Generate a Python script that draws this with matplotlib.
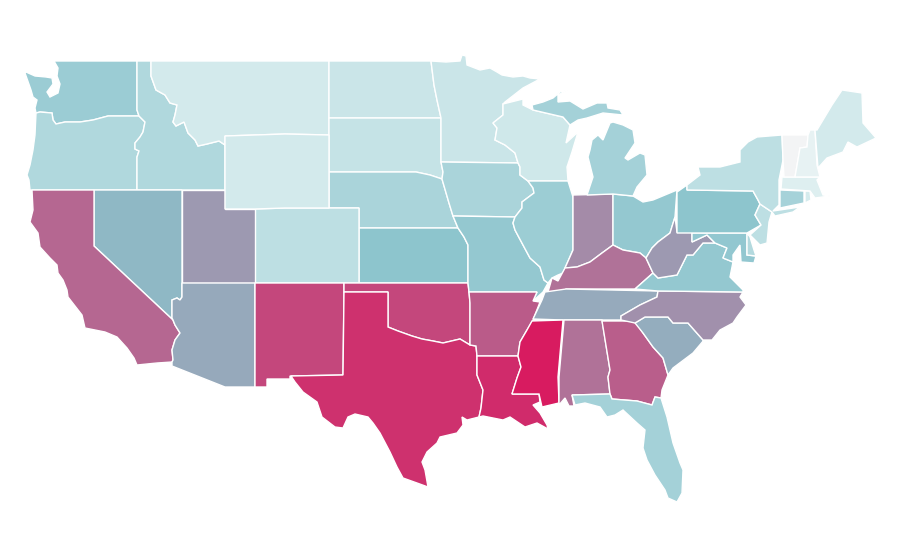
import matplotlib
matplotlib.use('Agg')
import matplotlib.pyplot as plt
from matplotlib.colors import LinearSegmentedColormap, Normalize
from matplotlib.patches import Polygon

# state outlines, traced in picture pixels
WA = [(54,61),(137,61),(137,110),(139,116),(108,116),(93,120),(80,122),(65,122),(56,124),(53,120),(52,113),(40,112),(36,113),(35,108),(37,100),(33,97),(31,90),(25,73),(26,72),(35,76),(46,77),(52,78),(53,84),(47,92),(50,97),(58,93),(60,84),(57,76),(58,68)]
OR = [(36,113),(40,112),(52,113),(53,120),(56,124),(65,122),(80,122),(93,120),(108,116),(139,116),(145,122),(143,132),(140,137),(135,143),(135,149),(139,151),(137,157),(137,190),(30,190),(29,180),(27,175),(30,165),(33,150),(35,135)]
ID = [(137,61),(151,61),(151,76),(156,90),(165,95),(170,103),(177,105),(175,115),(173,122),(176,126),(184,122),(188,133),(195,140),(198,146),(207,144),(219,141),(225,145),(225,190),(137,190),(137,157),(139,151),(135,149),(135,143),(140,137),(143,132),(145,122),(139,116),(137,110)]
MT = [(151,61),(329,61),(329,135),(285,134),(225,136),(225,145),(219,141),(207,144),(198,146),(195,140),(188,133),(184,122),(176,126),(173,122),(175,115),(177,105),(170,103),(165,95),(156,90),(151,76)]
WY = [(225,136),(285,134),(329,135),(329,208),(285,208),(255,209),(225,209)]
ND = [(329,61),(431,61),(434,85),(437,100),(441,118),(329,118)]
SD = [(329,118),(441,118),(441,162),(443,172),(442,179),(430,175),(416,172),(329,172)]
NE = [(329,172),(416,172),(430,175),(442,179),(449,203),(453,216),(458,228),(359,228),(359,208),(329,208)]
KS = [(359,228),(458,228),(464,237),(468,245),(468,283),(359,283)]
CO = [(255,209),(285,208),(359,208),(359,283),(255,283)]
UT = [(182,190),(225,190),(225,209),(255,209),(255,283),(182,283)]
NV = [(94,190),(182,190),(182,297),(180,300),(177,298),(172,300),(172,318),(173,320),(94,246)]
CA = [(32,190),(94,190),(94,246),(173,320),(175,325),(180,333),(175,340),(172,350),(173,360),(172,362),(157,363),(137,365),(134,358),(127,348),(117,337),(105,332),(95,330),(85,328),(82,315),(68,297),(67,290),(63,280),(58,273),(57,265),(50,258),(40,247),(38,233),(30,222),(33,210)]
AZ = [(182,283),(255,283),(255,387),(225,387),(172,366),(172,362),(173,360),(172,350),(175,340),(180,333),(175,325),(173,320),(172,318),(172,300),(177,298),(180,300),(182,297)]
NM = [(255,283),(344,283),(344,292),(343,375),(290,376),(290,379),(267,379),(267,387),(255,387)]
OK = [(344,283),(468,283),(469,292),(470,303),(470,345),(460,339),(443,343),(433,341),(422,339),(412,336),(398,331),(388,327),(388,292),(344,292)]
TX = [(344,292),(388,292),(388,327),(398,331),(412,336),(422,339),(433,341),(443,343),(460,339),(470,345),(476,346),(477,356),(477,375),(483,390),(481,408),(479,417),(467,420),(462,417),(463,425),(457,433),(440,437),(437,443),(427,452),(422,462),(425,470),(428,487),(417,483),(403,478),(397,467),(390,452),(380,433),(373,423),(368,417),(355,414),(348,417),(343,428),(335,427),(322,417),(317,402),(303,392),(295,382),(291,376),(343,375)]
MN = [(431,61),(446,62),(460,61),(462,55),(466,56),(467,65),(480,70),(490,68),(497,72),(502,75),(513,77),(523,76),(530,78),(540,79),(523,88),(505,102),(503,104),(503,115),(493,123),(497,128),(495,140),(505,145),(515,153),(518,163),(441,162),(441,118),(437,100),(434,85)]
IA = [(441,162),(518,163),(520,167),(520,175),(528,181),(533,188),(534,193),(522,202),(522,208),(515,217),(453,216),(449,203),(442,179),(443,172)]
MO = [(453,216),(515,217),(513,223),(515,230),(523,245),(530,258),(540,267),(544,280),(548,283),(543,292),(533,301),(537,292),(469,292),(468,283),(468,245),(464,237),(458,228)]
AR = [(469,292),(537,292),(533,301),(540,302),(533,320),(527,330),(520,342),(518,356),(477,356),(476,346),(470,345),(470,303)]
LA = [(477,356),(518,356),(521,367),(517,378),(512,394),(539,394),(540,402),(533,405),(540,413),(547,425),(548,429),(537,423),(525,427),(510,417),(503,420),(483,416),(479,417),(481,408),(483,390),(477,375)]
WI = [(503,104),(523,99),(523,105),(533,110),(563,117),(570,125),(566,143),(578,132),(572,152),(567,167),(568,181),(528,181),(520,175),(520,167),(518,163),(515,153),(505,145),(495,140),(497,128),(493,123),(503,115)]
IL = [(528,181),(568,181),(573,197),(573,250),(565,268),(563,273),(558,275),(552,278),(548,283),(544,280),(540,267),(530,258),(523,245),(515,230),(513,223),(515,217),(522,208),(522,202),(534,193),(533,188)]
IN = [(573,195),(613,194),(613,245),(602,253),(590,262),(577,267),(565,268),(573,250)]
OH = [(613,194),(633,196),(643,202),(653,200),(677,190),(675,217),(670,233),(658,242),(652,248),(646,258),(640,253),(623,250),(613,245)]
MI_LOWER = [(587,195),(613,194),(633,196),(637,187),(647,175),(645,155),(640,153),(628,160),(625,158),(635,143),(633,130),(623,125),(613,122),(610,123),(603,140),(598,135),(592,140),(590,150),(588,157),(593,177)]
MI_UPPER = [(532,105),(533,110),(563,117),(570,125),(578,120),(587,118),(603,113),(623,115),(620,110),(608,108),(607,103),(597,103),(583,109),(570,101),(558,102),(558,95),(568,90),(560,92),(553,98),(543,102)]
KY = [(548,292),(552,278),(558,281),(565,268),(577,267),(590,262),(602,253),(613,245),(623,250),(640,253),(646,258),(653,273),(635,289),(566,289),(565,292)]
TN = [(545,292),(566,289),(658,291),(657,297),(640,305),(621,316),(621,320),(563,320),(533,319),(542,300)]
MS = [(532,321),(563,320),(558,377),(559,403),(542,407),(539,394),(512,394),(517,378),(521,367),(518,356),(520,342),(527,330)]
AL = [(564,320),(602,320),(610,370),(608,377),(610,394),(572,395),(574,406),(569,406),(565,398),(559,405),(559,377)]
GA = [(602,321),(635,321),(643,333),(653,347),(663,358),(668,375),(662,390),(661,398),(655,397),(652,405),(637,401),(612,399),(610,394),(608,377),(610,370)]
FL = [(572,395),(610,394),(612,399),(637,401),(652,405),(655,397),(661,398),(667,417),(673,443),(680,463),(683,470),(682,493),(677,502),(668,498),(665,490),(655,475),(647,460),(643,448),(645,430),(637,423),(623,410),(615,415),(607,417),(600,407),(585,403),(575,405)]
SC = [(635,323),(645,317),(668,317),(673,323),(688,323),(703,340),(704,340),(693,353),(673,368),(668,375),(663,358),(653,347),(643,333)]
NC = [(621,320),(621,316),(640,305),(657,297),(658,291),(743,292),(740,297),(746,305),(737,317),(733,323),(720,330),(712,340),(703,340),(688,323),(673,323),(668,317),(645,317),(635,323)]
VA = [(635,289),(653,273),(658,278),(677,275),(687,255),(693,255),(703,243),(715,243),(727,248),(723,258),(733,262),(730,277),(743,290),(743,292),(658,291)]
WV = [(646,258),(652,248),(658,242),(670,233),(675,217),(677,232),(692,232),(692,242),(707,235),(715,243),(703,243),(693,255),(687,255),(677,275),(658,278),(653,273)]
MD = [(692,233),(747,233),(747,255),(756,256),(754,263),(741,262),(740,245),(733,255),(733,262),(723,258),(727,248),(715,243),(707,235),(692,242)]
DE = [(747,233),(750,237),(754,250),(756,256),(747,255)]
PA = [(677,192),(687,185),(687,190),(753,191),(758,200),(760,204),(755,215),(761,225),(747,233),(677,233)]
NJ = [(760,204),(772,212),(769,222),(767,243),(760,245),(750,235),(761,225),(755,215)]
NY = [(687,185),(700,175),(698,167),(720,167),(740,162),(740,150),(748,142),(757,137),(782,135),(783,160),(779,180),(779,205),(773,211),(800,207),(793,212),(775,216),(772,212),(760,204),(758,200),(753,191),(687,190)]
CT = [(780,190),(804,191),(804,203),(780,208)]
RI = [(805,191),(810,191),(811,200),(805,203)]
MA = [(782,177),(820,177),(817,180),(823,195),(830,196),(815,198),(810,191),(781,189)]
VT = [(782,135),(808,135),(807,147),(800,148),(795,177),(784,177),(783,160)]
NH = [(808,135),(810,130),(815,130),(817,165),(820,177),(795,177),(800,148),(807,147)]
ME = [(817,130),(832,105),(842,90),(862,93),(863,123),(876,138),(857,147),(848,142),(843,152),(827,158),(818,168),(815,130)]

outlines = [WA, OR, ID, MT, ND, SD, NE, KS, CO, UT, NV, CA, AZ, NM, OK, TX, MN, IA, MO, AR, LA, WI, IL, IN, OH,
            MI_LOWER, MI_UPPER, KY, TN, MS, AL, GA, FL, SC, NC, VA, WV, MD, DE, PA, NJ, NY, CT, RI, MA, VT, NH, ME, WY]
values = [33.5, 25, 25, 12, 15.5, 17, 27.5, 39, 20, 55, 44, 73, 49.6, 84, 84, 92, 15.5, 27.5, 36, 77, 94, 13.5, 33, 60, 36,
          30, 30, 69, 49, 100, 69, 76, 30, 48, 58, 36, 55, 37, 24, 39, 20, 20, 29, 11, 8, 0, 5, 12, 12]

cmap = LinearSegmentedColormap.from_list('states', [(0, '#f3f4f5'), (0.05, '#e6f2f3'), (0.12, '#d2eaec'),
                                                    (0.4, '#8ac3cc'), (1, '#d81b60')])
norm = Normalize(0, 100)

fig = plt.figure(figsize=(9, 5.6), dpi=100)
ax = fig.add_axes([0, 0, 1, 1])
for outline, value in zip(outlines, values):
    ax.add_patch(Polygon(outline, closed=True, facecolor=cmap(norm(value)), edgecolor='white', linewidth=1))
ax.set_xlim(0, 900)
ax.set_ylim(560, 0)
ax.axis('off')
fig.savefig('out.png', dpi=100)
